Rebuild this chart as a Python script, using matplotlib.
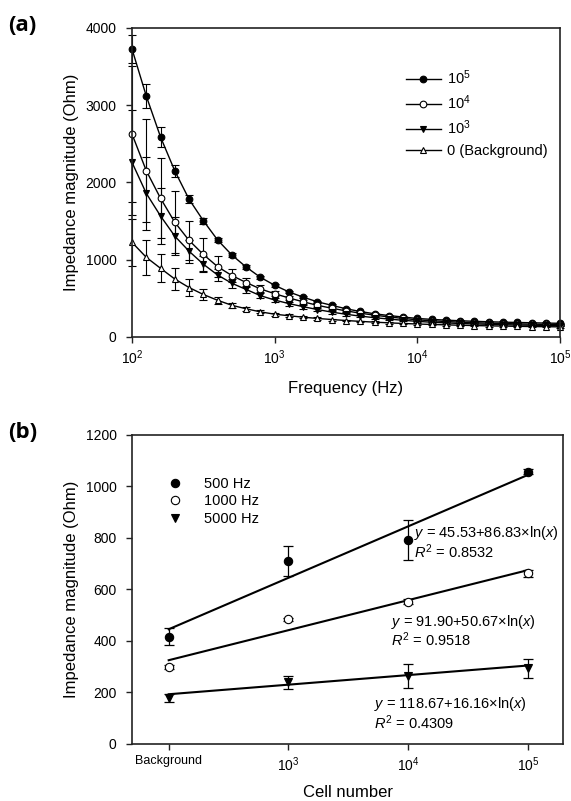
import numpy as np
import matplotlib
matplotlib.use('Agg')
import matplotlib.pyplot as plt

plt.rcParams['font.family'] = ['Liberation Sans', 'DejaVu Sans']
plt.rcParams['mathtext.fontset'] = 'custom'
plt.rcParams['mathtext.rm'] = 'Liberation Sans'
plt.rcParams['mathtext.it'] = 'Liberation Sans:italic'
plt.rcParams['mathtext.bf'] = 'Liberation Sans:bold'

# ---- panel (a): impedance spectra, 10 points per decade from 1e2 to 1e5 Hz
freq_exp = [2.0 + 0.1 * k for k in range(31)]
freq = [10 ** e for e in freq_exp]

z_1e5 = [3727, 3119, 2588, 2149, 1782, 1505, 1255, 1061, 905, 772, 669,
         583, 515, 455, 410, 365, 330, 300, 278, 258, 240,
         228, 218, 210, 203, 197, 192, 188, 184, 180, 177]
z_1e4 = [2627, 2152, 1795, 1484, 1250, 1068, 910, 795, 705, 622, 560,
         505, 455, 410, 372, 338, 308, 282, 260, 240, 222,
         210, 200, 192, 185, 179, 174, 170, 166, 163, 160]
z_1e3 = [2260, 1859, 1566, 1305, 1110, 942, 802, 695, 615, 535, 478,
         432, 392, 355, 322, 294, 270, 250, 232, 216, 202,
         191, 182, 175, 169, 164, 159, 155, 152, 149, 146]
z_bg = [1225, 1031, 889, 750, 640, 550, 475, 410, 365, 325, 295,
        275, 256, 240, 226, 213, 202, 192, 183, 175, 168,
        162, 157, 152, 148, 144, 141, 138, 135, 133, 131]

err_1e5 = [185, 160, 125, 72, 50, 40, 30, 25, 22, 20, 18,
           16, 15, 14, 13, 12, 12, 11, 11, 10, 10,
           10, 10, 9, 9, 9, 9, 9, 9, 9, 9]
err_1e4 = [875, 670, 520, 400, 250, 210, 140, 80, 60, 45, 35,
           30, 27, 24, 22, 20, 18, 16, 15, 14, 13,
           12, 12, 11, 11, 11, 10, 10, 10, 10, 10]
err_1e3 = [680, 470, 366, 250, 150, 100, 80, 60, 45, 35, 30,
           27, 24, 22, 20, 18, 16, 15, 14, 13, 12,
           12, 11, 11, 10, 10, 10, 10, 10, 10, 10]
err_bg = [300, 230, 180, 140, 105, 65, 45, 35, 25, 20, 18,
          16, 15, 14, 13, 12, 11, 11, 10, 10, 10,
          9, 9, 9, 9, 9, 9, 9, 9, 9, 9]

# ---- panel (b): impedance vs cell number at three frequencies
cells = [1e2, 1e3, 1e4, 1e5]
cell_labels = ['Background', '$10^3$', '$10^4$', '$10^5$']
z_500 = [417, 711, 791, 1058]
e_500 = [33, 58, 78, 10]
z_1000 = [299, 485, 553, 662]
e_1000 = [8, 6, 8, 12]
z_5000 = [178, 239, 265, 294]
e_5000 = [16, 25, 47, 37]
fit_a = [45.53, 91.90, 118.67]
fit_b = [86.83, 50.67, 16.16]
fit_r2 = ['0.8532', '0.9518', '0.4309']

fig = plt.figure(figsize=(5.71, 8.01), dpi=100)
ax1 = fig.add_axes([0.2312, 0.5793, 0.7496, 0.3858])
ax2 = fig.add_axes([0.2312, 0.0712, 0.7548, 0.3858])

for ax in (ax1, ax2):
    for s in ax.spines.values():
        s.set_linewidth(1.2)
        s.set_color('#222222')
    ax.tick_params(direction='out', length=4, width=1, colors='#222222',
                   labelcolor='black', labelsize=10)
    ax.tick_params(axis='y', pad=7)
    ax.tick_params(axis='x', pad=4)
    ax.minorticks_off()

# panel (a)
series_a = [
    (z_1e5, err_1e5, 'o', 'black', '$10^5$'),
    (z_1e4, err_1e4, 'o', 'white', '$10^4$'),
    (z_1e3, err_1e3, 'v', 'black', '$10^3$'),
    (z_bg, err_bg, '^', 'white', '0 (Background)'),
]
for z, e, m, fc, lab in series_a:
    ax1.errorbar(freq, z, yerr=e, fmt='-', marker=m, ms=4.8, mfc=fc, mec='black',
                 mew=0.8, color='black', lw=1.0, ecolor='black', elinewidth=0.8,
                 capsize=3, capthick=0.8, label=lab, clip_on=False)
ax1.set_xscale('log')
ax1.set_xlim(1e2, 1e5)
ax1.set_ylim(0, 4000)
ax1.set_yticks([0, 1000, 2000, 3000, 4000])
ax1.set_xticks([1e2, 1e3, 1e4, 1e5])
ax1.set_xticklabels(['$10^2$', '$10^3$', '$10^4$', '$10^5$'])
ax1.minorticks_off()
ax1.set_xlabel('Frequency (Hz)', fontsize=12, labelpad=10)
ax1.set_ylabel('Impedance magnitude (Ohm)', fontsize=12, labelpad=5)
h, l = ax1.get_legend_handles_labels()
h = [x[0] for x in h]
ax1.legend(h, l, loc='upper left', bbox_to_anchor=(0.64, 0.87), frameon=False,
           fontsize=10.5, handlelength=2.4, handletextpad=0.4, labelspacing=0.45,
           borderpad=0, borderaxespad=0)

# panel (b)
series_b = [
    (z_500, e_500, 'o', 'black', '500 Hz'),
    (z_1000, e_1000, 'o', 'white', '1000 Hz'),
    (z_5000, e_5000, 'v', 'black', '5000 Hz'),
]
xfit = np.geomspace(cells[0], cells[-1], 50)
for (z, e, m, fc, lab), a, b in zip(series_b, fit_a, fit_b):
    ax2.plot(xfit, a + b * np.log(xfit), color='black', lw=1.5)
    ax2.errorbar(cells, z, yerr=e, fmt='none', ecolor='black', elinewidth=0.9,
                 capsize=3.5, capthick=0.9)
    ax2.plot(cells, z, linestyle='none', marker=m, ms=6, mfc=fc, mec='black',
             mew=0.8, label=lab)
ax2.set_xscale('log')
ax2.set_xlim(10 ** 1.694, 10 ** 5.291)
ax2.set_ylim(0, 1200)
ax2.set_yticks(range(0, 1201, 200))
ax2.set_xticks(cells)
ax2.set_xticklabels(cell_labels)
ax2.minorticks_off()
for t in ax2.get_xticklabels():
    t.set_fontsize(9 if t.get_text() == 'Background' else 10)
ax2.set_xlabel('Cell number', fontsize=12, labelpad=8)
ax2.set_ylabel('Impedance magnitude (Ohm)', fontsize=12, labelpad=5)
ax2.legend(loc='upper left', bbox_to_anchor=(0.08, 0.865), frameon=False,
           fontsize=10.5, handlelength=1.2, handletextpad=1.4, labelspacing=0.25,
           borderpad=0, borderaxespad=0)

eq_pos = [(0.655, 0.682, 0.622), (0.600, 0.396, 0.337), (0.561, 0.129, 0.069)]
for (x0, y1, y2), a, b, r2 in zip(eq_pos, fit_a, fit_b, fit_r2):
    ax2.text(x0, y1, r'$\it{y}$ = %.2f+%.2f×ln($\it{x}$)' % (a, b),
             transform=ax2.transAxes, fontsize=10.5, va='center', ha='left')
    ax2.text(x0, y2, r'$\it{R}^2$ = ' + r2,
             transform=ax2.transAxes, fontsize=10.5, va='center', ha='left')

fig.text(0.014, 0.968, '(a)', fontsize=16, fontweight='bold', family='Open Sans',
         va='center', ha='left')
fig.text(0.014, 0.460, '(b)', fontsize=16, fontweight='bold', family='Open Sans',
         va='center', ha='left')

fig.savefig('out.png', dpi=100)
